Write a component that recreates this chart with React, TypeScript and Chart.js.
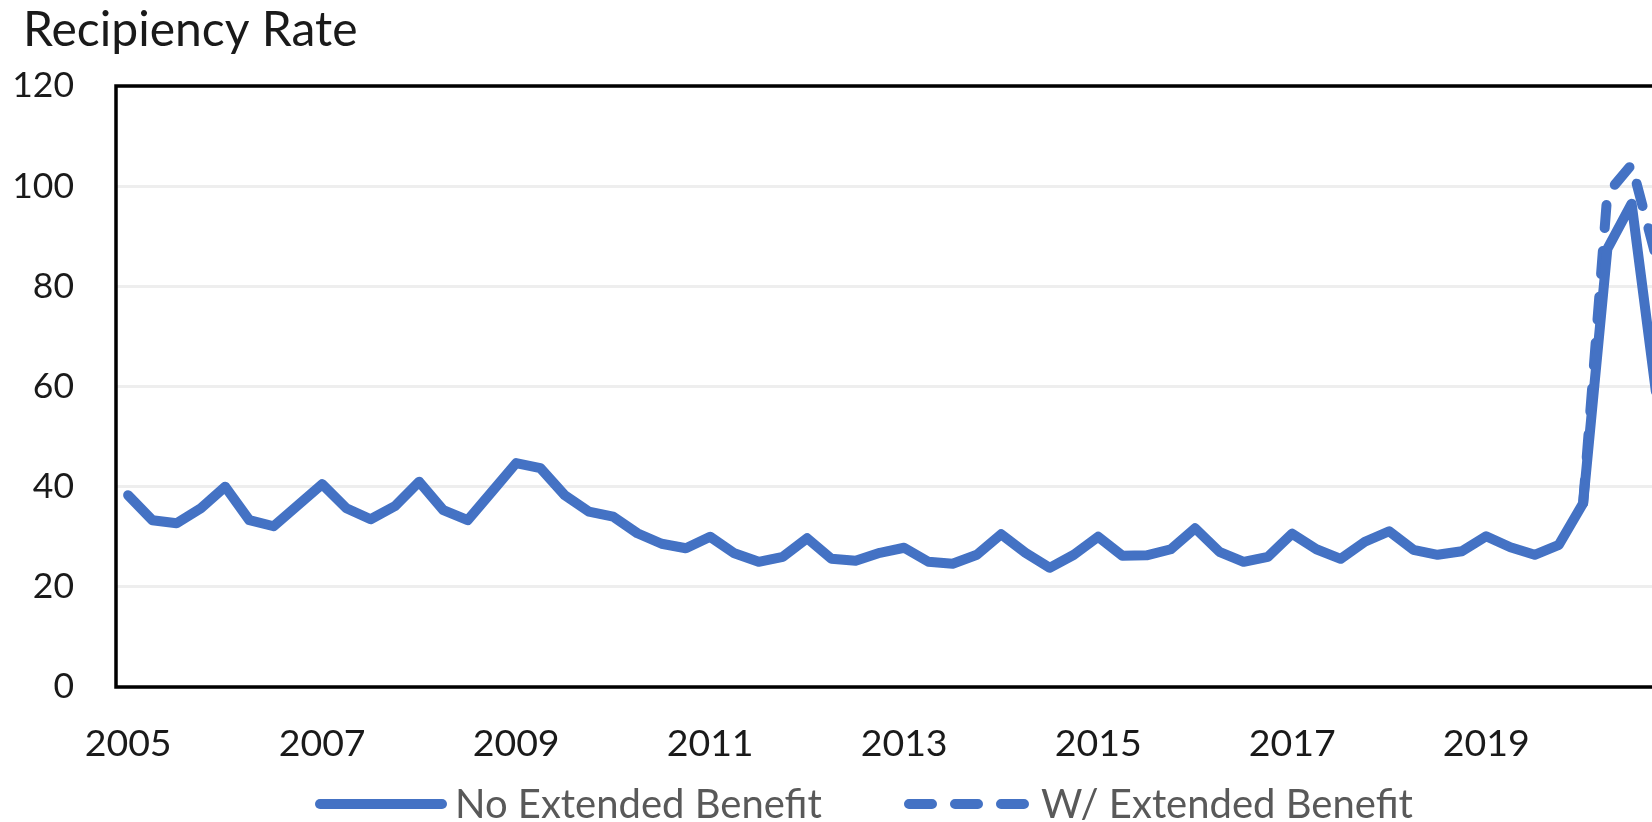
import React, { useEffect, useRef } from "react";
import { Chart, registerables } from "chart.js";

Chart.register(...registerables);

// ---------- data ----------
const years = [2005, 2006, 2007, 2008, 2009, 2010, 2011, 2012, 2013, 2014, 2015, 2016, 2017, 2018, 2019, 2020];
const quarters = ["Q1", "Q2", "Q3", "Q4"];
const categories = years.flatMap((y) => quarters.map((q) => `${y} ${q}`));

const yearTickLabels = ["2005", "2007", "2009", "2011", "2013", "2015", "2017", "2019"];

const noExtendedBenefit = [
  38.3, 33.3, 32.7, 35.7, // 2005
  40.0, 33.3, 32.1, 36.3, // 2006
  40.5, 35.7, 33.5, 36.1, // 2007
  41.0, 35.3, 33.3, 39.0, // 2008
  44.7, 43.7, 38.3, 35.0, // 2009
  34.0, 30.7, 28.6, 27.7, // 2010
  30.0, 26.7, 25.0, 26.0, // 2011
  29.7, 25.6, 25.2, 26.8, // 2012
  27.8, 25.0, 24.6, 26.4, // 2013
  30.5, 26.8, 23.8, 26.4, // 2014
  30.0, 26.2, 26.3, 27.5, // 2015
  31.7, 27.0, 25.0, 26.0, // 2016
  30.6, 27.5, 25.6, 29.0, // 2017
  31.1, 27.4, 26.4, 27.1, // 2018
  30.1, 27.9, 26.4, 28.4, // 2019
  36.7, 87.5, 96.5, 59.0, // 2020
];

const withExtendedBenefit: (number | null)[] = [
  null, null, null, null, null, null, null, null,
  null, null, null, null, null, null, null, null,
  null, null, null, null, null, null, null, null,
  null, null, null, null, null, null, null, null,
  null, null, null, null, null, null, null, null,
  null, null, null, null, null, null, null, null,
  null, null, null, null, null, null, null, null,
  null, null, null, null,
  36.7, 98.5, 104.3, 86.0, // 2020
];

const seriesNames = ["No Extended Benefit", "W/ Extended Benefit"];
const chartTitle = "Recipiency Rate";
const yMin = 0;
const yMax = 120;
const yStep = 20;

// ---------- styles ----------
const BLUE = "#4472C4";
const FONT = "Lato, 'Open Sans', sans-serif";
const CANVAS_W = 1700;
const CANVAS_H = 822;

const decorPlugin = {
  id: "decor",
  beforeDatasetsDraw(chart: any) {
    const { ctx, chartArea: a } = chart;
    ctx.save();
    ctx.strokeStyle = "#000000";
    ctx.lineWidth = 3.5;
    ctx.strokeRect(a.left, a.top, a.right - a.left, a.bottom - a.top);
    ctx.restore();
  },
  afterDraw(chart: any) {
    const { ctx } = chart;
    ctx.save();
    // title
    ctx.fillStyle = "#1a1a1a";
    ctx.font = `48px ${FONT}`;
    ctx.textAlign = "left";
    ctx.textBaseline = "alphabetic";
    ctx.fillText(chartTitle, 23, 46);

    // legend
    const legendY = 804;
    ctx.strokeStyle = BLUE;
    ctx.lineWidth = 10;
    ctx.lineCap = "round";
    ctx.setLineDash([]);
    ctx.beginPath();
    ctx.moveTo(320, legendY);
    ctx.lineTo(442, legendY);
    ctx.stroke();

    ctx.setLineDash([23, 23]);
    ctx.beginPath();
    ctx.moveTo(909, legendY);
    ctx.lineTo(1024, legendY);
    ctx.stroke();
    ctx.setLineDash([]);

    ctx.fillStyle = "#595959";
    ctx.font = `40px ${FONT}`;
    ctx.fillText(seriesNames[0], 455, 818);
    ctx.fillText(seriesNames[1], 1041, 818);
    ctx.restore();
  },
};

export default function App() {
  const canvasRef = useRef<HTMLCanvasElement | null>(null);

  useEffect(() => {
    if (!canvasRef.current) return;
    const chart = new Chart(canvasRef.current, {
      type: "line",
      data: {
        labels: categories,
        datasets: [
          {
            label: seriesNames[0],
            data: noExtendedBenefit,
            borderColor: BLUE,
            backgroundColor: BLUE,
            borderWidth: 10,
            pointRadius: 0,
            tension: 0,
            borderCapStyle: "round",
            borderJoinStyle: "round",
          },
          {
            label: seriesNames[1],
            data: withExtendedBenefit,
            borderColor: BLUE,
            backgroundColor: BLUE,
            borderWidth: 10,
            borderDash: [23, 23],
            pointRadius: 0,
            tension: 0,
            borderCapStyle: "round",
            borderJoinStyle: "round",
          },
        ],
      },
      options: {
        animation: false,
        responsive: true,
        maintainAspectRatio: false,
        layout: { padding: { top: 86, left: 0, right: 32, bottom: 0 } },
        plugins: {
          legend: { display: false },
          title: { display: false },
          tooltip: { enabled: false },
        },
        scales: {
          x: {
            type: "category",
            offset: true,
            grid: { display: false, drawTicks: false },
            border: { display: false },
            ticks: {
              autoSkip: false,
              maxRotation: 0,
              minRotation: 0,
              padding: 34,
              color: "#1a1a1a",
              font: { family: FONT, size: 37.5 },
              callback: (_v: any, index: number) => {
                const [yr, q] = categories[index].split(" ");
                return q === "Q1" && yearTickLabels.includes(yr) ? yr : "";
              },
            },
            afterFit: (scale: any) => {
              scale.height = 135;
            },
          },
          y: {
            min: yMin,
            max: yMax,
            grid: { color: "#EEEEEE", lineWidth: 3, drawTicks: false },
            border: { display: false },
            ticks: {
              stepSize: yStep,
              padding: 42,
              color: "#1a1a1a",
              font: { family: FONT, size: 35.5 },
            },
            afterFit: (scale: any) => {
              scale.width = 116;
            },
          },
        },
      },
      plugins: [decorPlugin],
    });
    return () => chart.destroy();
  }, []);

  return (
    <div
      style={{
        position: "fixed",
        left: 0,
        top: 0,
        width: "100vw",
        height: "100vh",
        overflow: "hidden",
        background: "#ffffff",
      }}
    >
      <div style={{ position: "absolute", left: 0, top: 0, width: CANVAS_W, height: CANVAS_H }}>
        <canvas ref={canvasRef} />
      </div>
    </div>
  );
}
